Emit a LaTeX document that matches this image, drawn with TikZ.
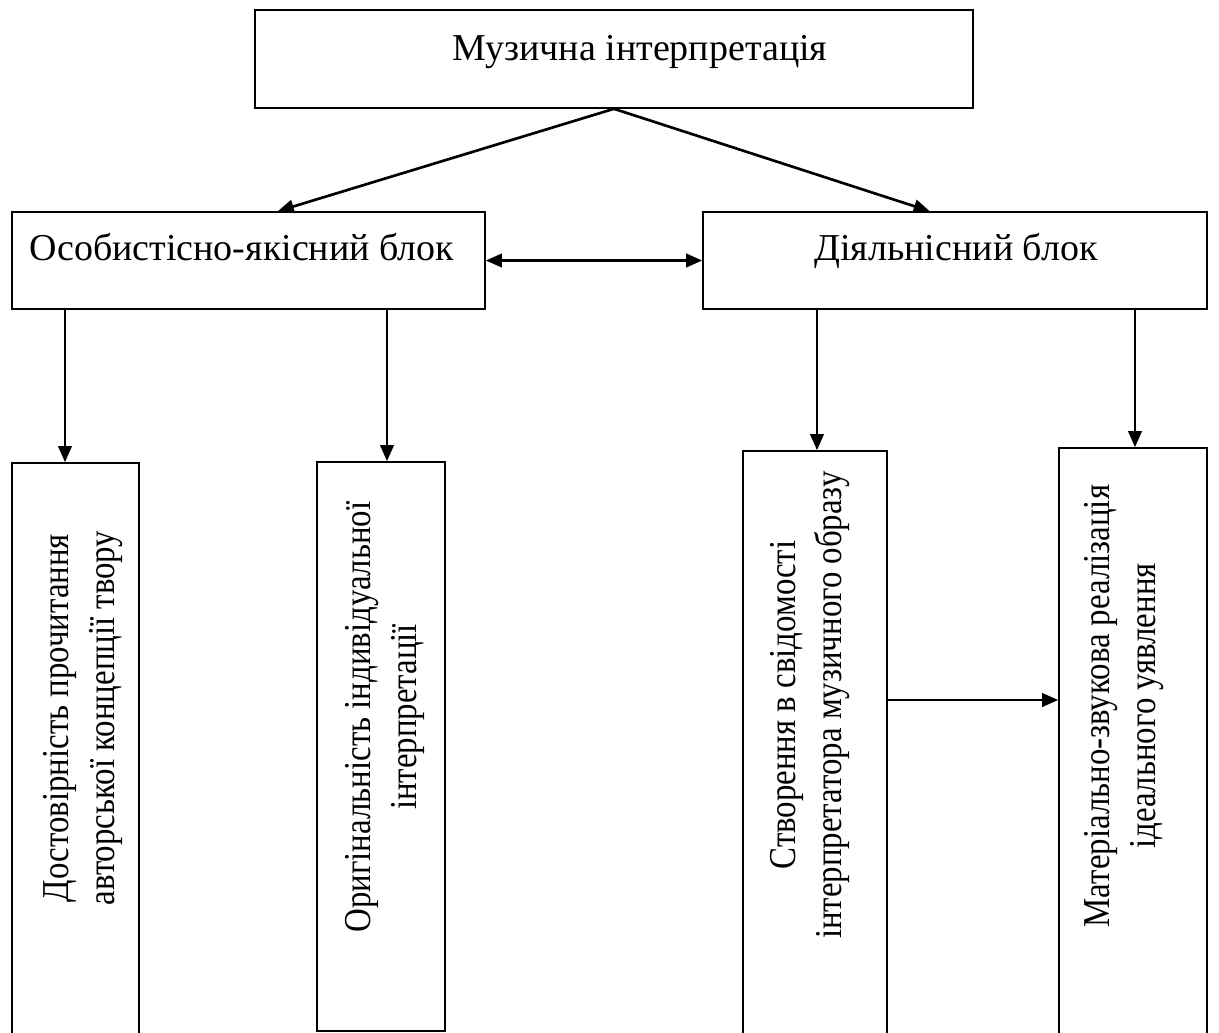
\documentclass[tikz,border=0pt]{standalone}
\usepackage{fontspec}
\setmainfont{Liberation Serif}
\newfontfamily\condfont[FakeStretch=0.865]{Liberation Serif}
\usetikzlibrary{arrows.meta,fit}
\begin{document}
\begin{tikzpicture}[x=0.75pt,y=-0.75pt,
  box/.style={draw, line width=1.2pt, inner sep=0pt, fit={#1}},
  lbl/.style={font=\fontsize{28.5pt}{34.5pt}\selectfont, inner sep=0pt},
  rot/.style={font=\condfont\fontsize{28.5pt}{34.5pt}\selectfont, inner sep=0pt, rotate=90, align=center},
  arr/.style={line width=2pt, -{Triangle[length=12pt,width=10pt]}},
  darr/.style={line width=2pt, {Triangle[length=12pt,width=10pt]}-{Triangle[length=12pt,width=10pt]}}]
\useasboundingbox (0,0) rectangle (1219,1032);
% boxes
\node[box={(255,10) (973,108)}] (top) {};
\node[box={(12,212) (485,309)}] (lb) {};
\node[box={(703,212) (1207,309)}] (rb) {};
\node[box={(12,463) (139,1045)}] (b1) {};
\node[box={(317,462) (445,1031)}] (b2) {};
\node[box={(743,451) (887,1045)}] (b3) {};
\node[box={(1059,448) (1207,1045)}] (b4) {};
% texts
\node[lbl, anchor=base] (ttop) at (640,60) {Музична інтерпретація};
\node[lbl, anchor=base] (tlb) at (242,260) {Особистісно-якісний блок};
\node[lbl, anchor=base] (trb) at (956,260) {Діяльнісний блок};
\node[rot] (t1) at (83,718) {Достовірність прочитання\\авторської концепції твору};
\node[rot] (t2) at (385,717) {Оригінальність індивідуальної\\інтерпретації};
\node[rot] (t3) at (810,705) {Створення в свідомості\\інтерпретатора музичного образу};
\node[rot] (t4) at (1124,706) {Матеріально-звукова реалізація\\ідеального уявлення};
% helper coordinates
\coordinate (x1) at (65,0);
\coordinate (x2) at (387,0);
\coordinate (x3) at (817,0);
\coordinate (x4) at (1135,0);
\coordinate (y1) at (0,700);
% connectors
\draw[arr] (top.south) -- ([xshift=22pt]lb.north);
\draw[arr] (top.south) -- ([xshift=-19pt]rb.north);
\draw[darr] (lb.east) -- (rb.west);
\draw[arr] (lb.south -| x1) -- (b1.north -| x1);
\draw[arr] (lb.south -| x2) -- (b2.north -| x2);
\draw[arr] ([yshift=1.5pt]rb.south -| x3) -- (b3.north -| x3);
\draw[arr] ([yshift=1.5pt]rb.south -| x4) -- (b4.north -| x4);
\draw[arr] (b3.east |- y1) -- (b4.west |- y1);
\end{tikzpicture}
\end{document}
